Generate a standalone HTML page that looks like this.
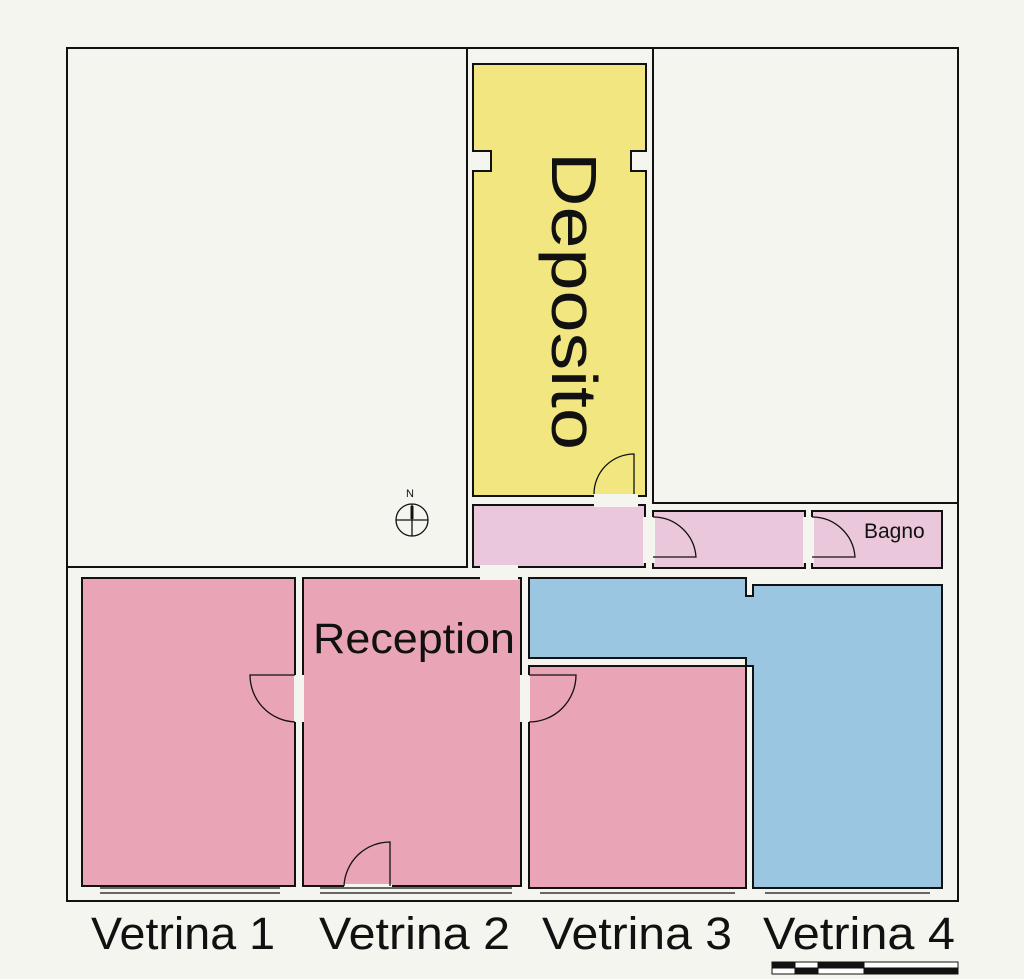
<!DOCTYPE html>
<html><head><style>
html,body{margin:0;padding:0;background:#f5f5f0;}
svg{display:block;}
text{font-family:"Liberation Sans",sans-serif;fill:#111;}
</style></head><body>
<svg width="1024" height="979" viewBox="0 0 1024 979" xmlns="http://www.w3.org/2000/svg">
<rect width="1024" height="979" fill="#f5f5f0"/>
<g fill="none" stroke="#111" stroke-width="2">
<!-- outer building -->
<path d="M67 48 H958 V901 H67 Z" fill="#f5f5f0"/>
<rect x="67" y="48" width="400" height="519"/>
<rect x="653" y="48" width="305" height="455"/>
<line x1="467" y1="48" x2="467" y2="567"/>
<line x1="653" y1="48" x2="653" y2="503"/>
</g>
<g stroke="#111" stroke-width="2">
<!-- deposito -->
<path d="M473 64 H646 V151 H631 V171 H646 V496 H473 V171 H491 V151 H473 Z" fill="#f2e681"/>
<!-- corridor -->
<rect x="473" y="505" width="172" height="62" fill="#eac7da"/>
<rect x="653" y="511" width="152" height="57" fill="#eac7da"/>
<rect x="812" y="511" width="130" height="57" fill="#eac7da"/>
<!-- blue -->
<path d="M529 578 H746 V596 H753 V585 H942 V888 H753 V666 H746 V658 H529 Z" fill="#9ac6e2"/>
<!-- pink rooms -->
<rect x="82" y="578" width="213" height="308" fill="#e9a5b6"/>
<rect x="303" y="578" width="218" height="308" fill="#e9a5b6"/>
<rect x="529" y="666" width="217" height="222" fill="#e9a5b6"/>
</g>
<!-- door gaps -->
<g fill="#f5f5f0">
<rect x="594" y="494" width="44" height="13"/>
<rect x="643" y="517" width="12" height="46"/>
<rect x="803" y="517" width="11" height="46"/>
<rect x="480" y="565" width="38" height="15"/>
<rect x="294" y="675" width="10" height="47"/>
<rect x="520" y="675" width="10" height="47"/>
<rect x="344" y="884" width="48" height="6"/>
</g>
<g fill="none" stroke="#111" stroke-width="1.3">
<!-- deposito door -->
<path d="M594 494 A40 40 0 0 1 634 454 V494"/>
<!-- corridor doors -->
<path d="M653 517 A43 43 0 0 1 696 557 H653"/>
<path d="M812 517 A43 43 0 0 1 855 557 H812"/>
<!-- vetrina1 door -->
<path d="M295 675 H250 A47 47 0 0 0 295 722"/>
<!-- room3 door -->
<path d="M529 675 H576 A47 47 0 0 1 529 722"/>
<!-- reception front door -->
<path d="M344 886 A46 46 0 0 1 390 842 V886"/>
<!-- windows -->
<path d="M100 888 H280 M100 893 H280 M320 888 H512 M320 893 H512 M540 888 H735 M540 893 H735 M765 888 H930 M765 893 H930"/>
<!-- compass -->
<circle cx="412" cy="520" r="16"/>
<line x1="396" y1="520" x2="428" y2="520"/>
<line x1="412" y1="504" x2="412" y2="536"/>
</g>
<line x1="412" y1="506" x2="412" y2="519" stroke="#111" stroke-width="3"/>
<text x="406" y="497" font-size="11">N</text>
<!-- labels -->
<text transform="translate(552,152) rotate(90)" font-size="64" textLength="298" lengthAdjust="spacingAndGlyphs">Deposito</text>
<text x="313" y="653" font-size="43" textLength="202" lengthAdjust="spacingAndGlyphs">Reception</text>
<text x="864" y="538" font-size="21">Bagno</text>
<text x="91" y="949" font-size="45" textLength="184" lengthAdjust="spacingAndGlyphs">Vetrina 1</text>
<text x="319" y="949" font-size="45" textLength="191" lengthAdjust="spacingAndGlyphs">Vetrina 2</text>
<text x="542" y="949" font-size="45" textLength="190" lengthAdjust="spacingAndGlyphs">Vetrina 3</text>
<text x="763" y="949" font-size="45" textLength="192" lengthAdjust="spacingAndGlyphs">Vetrina 4</text>
<!-- scale bar -->
<g stroke="#111" stroke-width="1">
<rect x="772" y="962" width="186" height="12" fill="#fff"/>
<rect x="772" y="962" width="23" height="6" fill="#111"/>
<rect x="795" y="968" width="23" height="6" fill="#111"/>
<rect x="818" y="962" width="46" height="6" fill="#111"/>
<rect x="864" y="968" width="94" height="6" fill="#111"/>
</g>
</svg>
</body></html>
